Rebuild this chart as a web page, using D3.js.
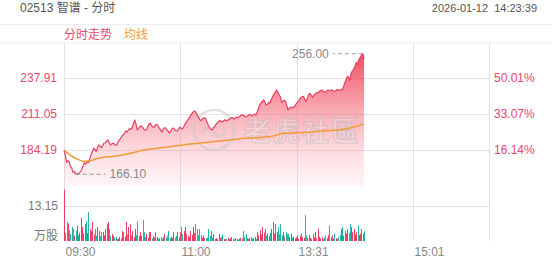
<!DOCTYPE html>
<html>
<head>
<meta charset="utf-8">
<script src="https://cdn.jsdelivr.net/npm/d3@7"></script>
<style>
  body { margin: 0; background: #fff; }
  svg { font-family: "Liberation Sans", Arial, "Noto Sans CJK SC", sans-serif; }
</style>
</head>
<body>
<svg width="552" height="265"></svg>
<script>
// minute prices 09:30 -> 14:23 (one per minute, lunch break skipped)
const prices = [
  184.2, 180.5, 175.0, 176.3, 175.5, 172.0, 170.8, 167.5, 168.2, 166.1,
  166.6, 166.3, 166.9, 168.5, 170.2, 172.8, 174.6, 173.8, 175.2, 174.9,
  177.6, 180.4, 183.0, 185.5, 184.6, 183.2, 185.9, 188.0, 187.1, 185.7,
  187.4, 189.2, 189.6, 190.5, 191.7, 189.9, 188.0, 188.6, 189.4, 188.7,
  187.6, 188.1, 190.2, 191.7, 192.8, 194.6, 195.4, 196.9, 198.3, 197.6,
  199.1, 200.2, 199.6, 201.3, 204.1, 206.6, 203.2, 199.1, 200.4, 201.8,
  202.1, 201.0, 199.8, 198.9, 199.1, 201.5, 203.6, 204.3, 202.4, 201.3,
  201.3, 202.9, 203.4, 202.1, 200.6, 199.2, 197.6, 199.4, 200.8, 200.6,
  199.3, 197.8, 196.9, 198.5, 200.2, 200.6, 199.2, 198.4, 198.4, 199.7,
  201.3, 200.4, 199.8, 201.6, 203.5, 205.2, 206.3, 208.0, 209.6, 211.0,
  212.3, 213.2, 212.8, 211.4, 209.1, 207.8, 206.1, 206.6, 207.9, 208.2,
  207.6, 205.0, 202.8, 200.8, 199.6, 199.1, 200.9, 201.6, 203.4, 204.6,
  205.3, 206.2, 205.5, 205.1, 206.0, 206.8, 205.9, 206.2, 207.1, 207.6,
  208.3, 208.2, 207.3, 208.0, 208.9, 208.2, 209.1, 209.8, 210.6, 210.3,
  209.7, 208.8, 209.0, 209.9, 210.8, 210.3, 209.6, 210.4, 211.1, 210.3,
  212.6, 215.2, 217.8, 219.4, 220.2, 221.7, 219.9, 217.8, 218.4, 219.8,
  219.3, 222.0, 224.0, 225.7, 227.2, 229.0, 227.4, 225.3, 223.9, 219.6,
  220.6, 221.3, 220.7, 217.2, 214.0, 215.3, 216.4, 215.5, 216.2, 216.5,
  218.3, 219.5, 220.6, 222.1, 223.4, 224.0, 224.2, 222.0, 220.4, 222.9,
  225.4, 226.5, 225.0, 223.6, 224.9, 226.1, 226.8, 227.0, 227.6, 228.4,
  229.0, 228.2, 227.5, 227.3, 228.3, 229.0, 228.4, 228.8, 229.0, 228.1,
  227.7, 228.4, 229.3, 229.0, 228.5, 229.4, 229.0, 231.3, 234.2, 236.6,
  239.0, 238.6, 236.4, 241.6, 243.3, 244.6, 246.9, 249.6, 248.1, 251.7,
  253.4, 255.1, 256.0, 252.0
];

// average price line, sampled every 5 minutes
const avgMinutes = [0, 5, 10, 15, 20, 25, 30, 35, 40, 45, 50, 55, 60, 65, 70, 75, 80, 85, 90, 95,
  100, 105, 110, 115, 120, 125, 130, 135, 140, 145, 150, 155, 160, 165, 170, 175, 180, 185, 190, 195,
  200, 205, 210, 215, 220, 225, 230, 233];
const avgPrices = [184.2, 180.2, 177.6, 175.7, 176.0, 177.6, 178.6, 179.2, 179.7, 180.5, 181.4, 182.5,
  183.8, 184.6, 185.2, 185.8, 186.4, 187.0, 187.7, 188.3, 188.8, 189.3, 189.8, 190.3, 190.8, 191.3,
  191.8, 192.4, 192.9, 193.2, 193.4, 193.7, 194.2, 195.3, 196.6, 196.9, 197.0, 197.2, 197.5, 197.9,
  198.3, 198.6, 198.9, 199.3, 200.2, 201.4, 202.7, 203.5];

// minute volume, 万股
const volumes = [
  19.2, 3.0, 7.1, 6.5, 4.0, 2.5, 5.2, 4.5, 2.0, 3.7,
  5.6, 2.2, 3.1, 8.6, 5.2, 2.8, 6.3, 7.4, 3.0, 10.8,
  4.5, 3.6, 7.1, 2.4, 4.5, 2.0, 5.2, 3.7, 1.8, 3.3,
  3.4, 2.1, 4.5, 6.3, 7.1, 4.5, 1.9, 2.6, 1.9, 1.2,
  1.5, 0.8, 0.8, 1.5, 1.0, 3.7, 3.3, 1.6, 7.1, 2.4,
  5.2, 6.3, 2.0, 3.7, 1.4, 4.5, 2.2, 7.4, 1.8, 3.3,
  2.0, 7.8, 3.3, 1.5, 2.6, 1.2, 3.3, 3.3, 1.0, 1.9,
  1.3, 3.3, 1.5, 0.9, 1.1, 1.5, 0.8, 1.5, 2.6, 1.2,
  2.0, 3.7, 1.0, 1.5, 1.1, 3.3, 1.2, 1.9, 3.3, 1.4,
  3.3, 5.2, 2.6, 3.7, 5.2, 2.6, 1.9, 1.5, 3.7, 2.2,
  5.2, 3.0, 6.3, 4.5, 2.2, 4.5, 2.2, 1.2, 2.0, 1.1,
  1.0, 1.3, 4.5, 2.0, 3.7, 1.3, 2.6, 0.8, 1.0, 0.7,
  2.6, 1.1, 1.5, 2.4, 0.8, 0.6, 0.9, 1.3, 0.7, 0.9,
  1.5, 0.8, 0.6, 1.1, 0.7, 0.5, 0.9, 1.2, 0.8, 3.7,
  1.6, 2.7, 1.0, 0.7, 1.2, 1.5, 0.9, 1.0, 1.5, 0.8,
  3.3, 2.1, 4.0, 2.4, 5.2, 3.1, 4.5, 2.0, 2.7, 1.8,
  3.0, 4.5, 7.1, 2.8, 6.3, 3.3, 5.2, 2.5, 6.3, 2.2,
  3.3, 1.6, 3.3, 2.6, 2.7, 1.5, 2.7, 1.3, 1.5, 1.0,
  1.3, 2.1, 0.9, 1.9, 2.7, 1.4, 1.2, 9.6, 2.1, 1.1,
  2.1, 1.2, 0.8, 2.7, 1.4, 3.3, 1.0, 4.5, 1.6, 0.9,
  1.5, 0.7, 1.2, 2.0, 1.1, 2.1, 5.8, 1.3, 2.1, 0.9,
  2.7, 1.0, 0.8, 1.4, 2.2, 4.5, 5.2, 2.0, 3.7, 2.6,
  4.5, 3.0, 6.3, 5.2, 3.3, 4.5, 2.4, 3.3, 5.8, 2.2,
  2.7, 4.5, 2.6, 3.7
];

const priceTicks = [184.19, 211.05, 237.91];
const pctTicks = ['16.14%', '33.07%', '50.01%'];
const priceDomain = [157.33, 264.77];
const volTicks = [13.15];
const volMax = 19.73;
const timeTicks = [0, 90, 181, 271];
const timeLabels = ['09:30', '11:00', '13:31', '15:01'];
const totalMinutes = 330;

const svg = d3.select('svg');
const width = +svg.attr('width');
const plotLeft = 64, plotRight = 489, plotTop = 43;
const priceBottom = 186, volTop = 188, volBottom = 241;
const red = '#ea3f62', redText = '#e8496c', teal = '#22b8a6', orange = '#f39a36', gray = '#888';

const x = d3.scaleLinear().domain([0, totalMinutes]).range([plotLeft, plotRight]);
const yPrice = d3.scaleLinear().domain(priceDomain).range([priceBottom, 42]);
const yVol = d3.scaleLinear().domain([0, volMax]).range([volBottom, volTop]);

// header
svg.append('text').attr('x', 20).attr('y', 12).attr('font-size', 12).attr('fill', '#555')
  .text('02513 智谱 - 分时');
svg.append('text').attr('x', 537).attr('y', 12).attr('font-size', 11).attr('fill', '#555')
  .attr('text-anchor', 'end').style('white-space', 'pre').text('2026-01-12  14:23:39');

// legend band
svg.append('rect').attr('x', -1).attr('y', 24.5).attr('width', width + 2).attr('height', 18.5)
  .attr('fill', '#fff').attr('stroke', '#ededed');
svg.append('text').attr('x', 64).attr('y', 39).attr('font-size', 12).attr('fill', redText).text('分时走势');
svg.append('text').attr('x', 124).attr('y', 39).attr('font-size', 12).attr('fill', orange).text('均线');

// grid
const gridColor = '#e3e3e3';
svg.append('g').attr('class', 'grid')
  .attr('transform', `translate(${plotLeft},0)`)
  .call(d3.axisLeft(yPrice).tickValues(priceTicks).tickSize(-(plotRight - plotLeft)).tickFormat(''))
  .call(g => g.select('.domain').remove());
svg.append('g').attr('class', 'grid')
  .attr('transform', `translate(${plotLeft},0)`)
  .call(d3.axisLeft(yVol).tickValues(volTicks).tickSize(-(plotRight - plotLeft)).tickFormat(''))
  .call(g => g.select('.domain').remove());
svg.append('g').attr('class', 'grid')
  .attr('transform', `translate(0,${volBottom})`)
  .call(d3.axisBottom(x).tickValues(timeTicks.concat([totalMinutes])).tickSize(-(volBottom - plotTop)).tickFormat(''))
  .call(g => g.select('.domain').remove());
svg.selectAll('.grid line').attr('stroke', gridColor).attr('shape-rendering', 'crispEdges');

// area gradient
const defs = svg.append('defs');
const grad = defs.append('linearGradient').attr('id', 'areaFill')
  .attr('gradientUnits', 'userSpaceOnUse')
  .attr('x1', 0).attr('x2', 0).attr('y1', yPrice(256)).attr('y2', priceBottom);
grad.append('stop').attr('offset', '0%').attr('stop-color', '#f03c52').attr('stop-opacity', 0.92);
grad.append('stop').attr('offset', '55%').attr('stop-color', '#f5707f').attr('stop-opacity', 0.45);
grad.append('stop').attr('offset', '100%').attr('stop-color', '#fbb8c2').attr('stop-opacity', 0.14);

const area = d3.area()
  .x((d, i) => x(i))
  .y0(priceBottom)
  .y1(d => yPrice(d));
svg.append('path').datum(prices).attr('d', area).attr('fill', 'url(#areaFill)');

// watermark
const wm = svg.append('g').attr('opacity', 0.55);
wm.append('circle').attr('cx', 214).attr('cy', 130).attr('r', 20)
  .attr('fill', 'none').attr('stroke', '#c9c9c9').attr('stroke-width', 2.5);
wm.append('path').attr('d', 'M202,134 q6,-12 12,-2 q6,10 12,-3')
  .attr('fill', 'none').attr('stroke', '#c9c9c9').attr('stroke-width', 2.5);
wm.append('text').attr('x', 244).attr('y', 141).attr('font-size', 27).attr('font-weight', 'bold')
  .attr('letter-spacing', 2)
  .attr('font-family', '"Noto Sans CJK TC", "Noto Sans CJK SC", sans-serif')
  .attr('fill', 'rgba(255,255,255,0.5)').attr('stroke', '#bdbdbd').attr('stroke-width', 1.2)
  .text('老虎社區');

// price + avg lines
const line = d3.line().x((d, i) => x(i)).y(d => yPrice(d));
svg.append('path').datum(prices).attr('d', line)
  .attr('fill', 'none').attr('stroke', red).attr('stroke-width', 1.2).attr('stroke-linejoin', 'round');
const avgLine = d3.line().x((d, i) => x(avgMinutes[i])).y(d => yPrice(d)).curve(d3.curveMonotoneX);
svg.append('path').datum(avgPrices).attr('d', avgLine)
  .attr('fill', 'none').attr('stroke', orange).attr('stroke-width', 1.5);

// high / low markers
const hi = d3.maxIndex(prices), lo = d3.minIndex(prices);
const markers = [
  {i: hi, dir: -1}, {i: lo, dir: 1}
];
markers.forEach(m => {
  const px = x(m.i), py = yPrice(prices[m.i]);
  const x2 = px + m.dir * 30;
  svg.append('line').attr('x1', px).attr('x2', x2).attr('y1', py).attr('y2', py)
    .attr('stroke', '#999').attr('stroke-dasharray', '4,3');
  svg.append('text').attr('x', x2 + m.dir * 4).attr('y', py).attr('dy', '0.35em')
    .attr('text-anchor', m.dir < 0 ? 'end' : 'start')
    .attr('font-size', 12).attr('fill', gray).text(prices[m.i].toFixed(2));
});

// volume bars
svg.append('g').selectAll('rect').data(volumes).enter().append('rect')
  .attr('x', (d, i) => Math.round(x(i)))
  .attr('y', d => yVol(d))
  .attr('width', 1)
  .attr('height', d => volBottom - yVol(d))
  .attr('fill', (d, i) => i === 0 || prices[i] >= prices[i - 1] ? red : teal);

// axes labels
const styleAxis = (g, color) => {
  g.select('.domain').remove();
  g.selectAll('text').attr('fill', color).attr('font-size', 12)
    .attr('font-family', '"Liberation Sans", Arial, sans-serif');
};
svg.append('g').attr('transform', `translate(${plotLeft},0)`)
  .call(d3.axisLeft(yPrice).tickValues(priceTicks).tickSize(0).tickPadding(7).tickFormat(d3.format('.2f')))
  .call(g => styleAxis(g, redText));
svg.append('g').attr('transform', `translate(${plotRight},0)`)
  .call(d3.axisRight(yPrice).tickValues(priceTicks).tickSize(0).tickPadding(5).tickFormat((d, i) => pctTicks[i]))
  .call(g => styleAxis(g, redText));
svg.append('g').attr('transform', `translate(${plotLeft},0)`)
  .call(d3.axisLeft(yVol).tickValues(volTicks).tickSize(0).tickPadding(6).tickFormat(d3.format('.2f')))
  .call(g => styleAxis(g, '#777'));
svg.append('text').attr('x', 58).attr('y', 240).attr('text-anchor', 'end')
  .attr('font-size', 12).attr('fill', '#777').text('万股');
svg.append('g').attr('transform', `translate(0,${volBottom})`)
  .call(d3.axisBottom(x).tickValues(timeTicks).tickSize(0).tickPadding(6).tickFormat((d, i) => timeLabels[i]))
  .call(g => styleAxis(g, gray))
  .call(g => g.selectAll('text').attr('text-anchor', 'start').attr('dx', 1));
</script>
</body>
</html>
